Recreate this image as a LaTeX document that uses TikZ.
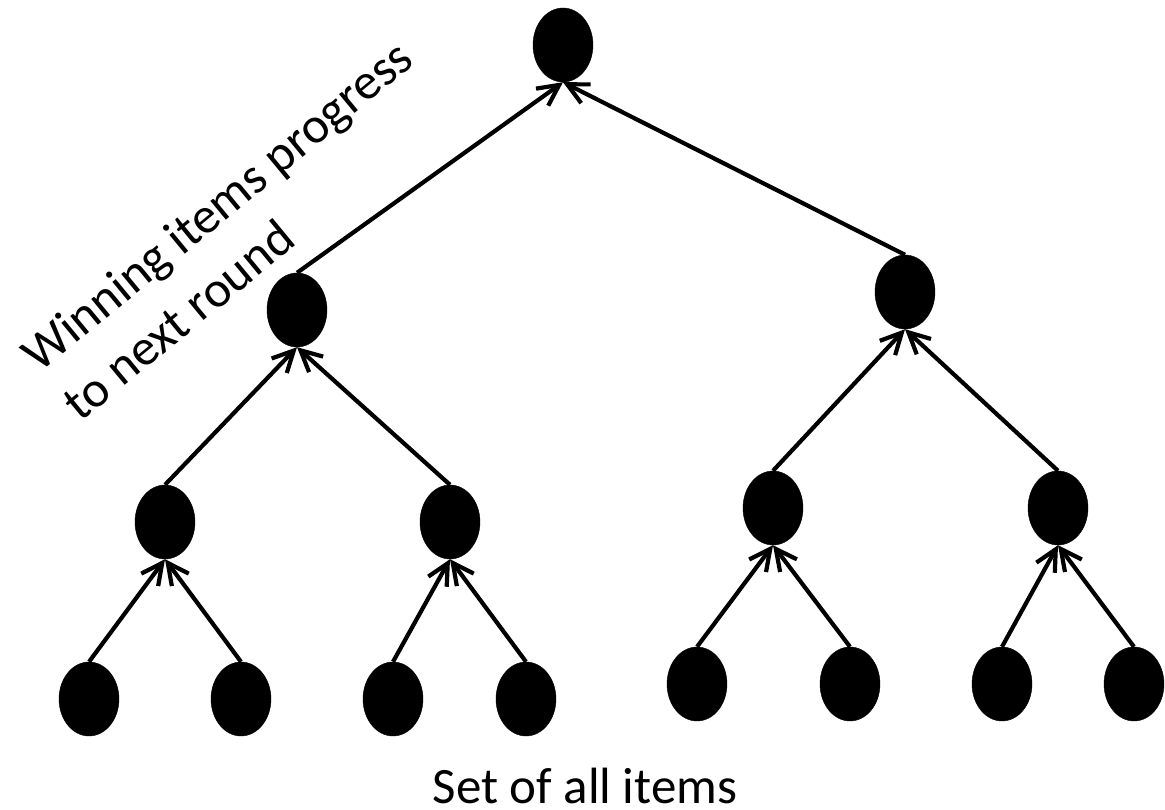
\documentclass[tikz,border=0pt]{standalone}
\usepackage{fontspec}
\setmainfont{Carlito}
\usetikzlibrary{arrows.meta,shapes.geometric}
\begin{document}
\begin{tikzpicture}[x=1pt,y=-1pt,
  item/.style={ellipse,fill=black,draw=black,minimum width=60pt,minimum height=74pt,inner sep=0pt},
  adv/.style={line width=4.2pt,-{Straight Barb[length=21pt,width=21pt]}},
  lbl/.style={inner sep=0pt,font=\fontsize{51}{64}\selectfont}]
\useasboundingbox (0,0) rectangle (1165,810);
\node[item] (r) at (563,45) {};
\node[item] (a) at (297,310) {};
\node[item] (b) at (905,292) {};
\node[item] (c) at (165,522) {};
\node[item] (d) at (450,522) {};
\node[item] (e) at (773,508) {};
\node[item] (f) at (1058,508) {};
\node[item] (l1) at (89,699) {};
\node[item] (l2) at (241,699) {};
\node[item] (l3) at (393,699) {};
\node[item] (l4) at (526,699) {};
\node[item] (l5) at (697,684) {};
\node[item] (l6) at (850,684) {};
\node[item] (l7) at (1002,684) {};
\node[item] (l8) at (1134,684) {};
\draw[adv] (a.north) -- (r.south);
\draw[adv] (b.north) -- (r.south);
\draw[adv] (c.north) -- (a.south);
\draw[adv] (d.north) -- (a.south);
\draw[adv] (e.north) -- (b.south);
\draw[adv] (f.north) -- (b.south);
\draw[adv] (l1.north) -- (c.south);
\draw[adv] (l2.north) -- (c.south);
\draw[adv] (l3.north) -- (d.south);
\draw[adv] (l4.north) -- (d.south);
\draw[adv] (l5.north) -- (e.south);
\draw[adv] (l6.north) -- (e.south);
\draw[adv] (l7.north) -- (f.south);
\draw[adv] (l8.north) -- (f.south);
\node[lbl,rotate=39.5,align=left,anchor=west] (t1) at (49,385) {Winning items progress\\to next round};
\node[lbl,anchor=base] (t2) at (585,803) {Set of all items};
\end{tikzpicture}
\end{document}
